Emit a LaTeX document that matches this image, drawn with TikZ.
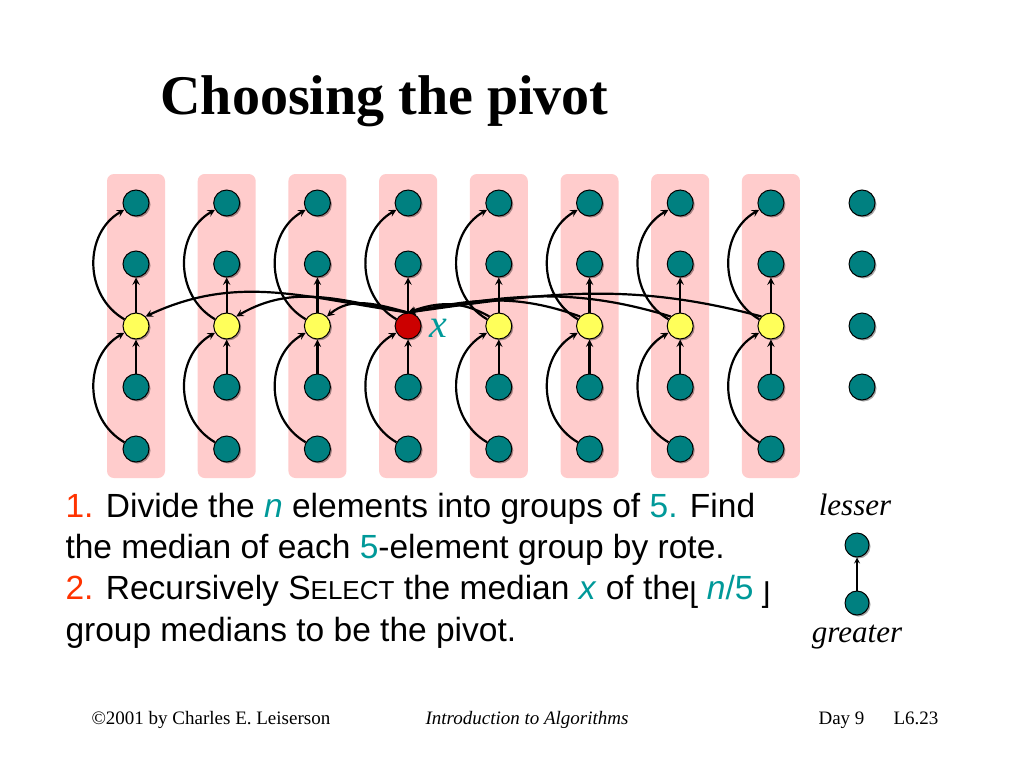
\documentclass[tikz,border=0pt]{standalone}
\usepackage{fontspec}
\setmainfont{Liberation Serif}
\setsansfont{Liberation Sans}
\newfontfamily\symfont{DejaVu Sans}
\usepackage{tikz}
\usetikzlibrary{shadows}

\definecolor{nodeteal}{RGB}{0,128,128}
\definecolor{medyellow}{RGB}{255,255,90}
\definecolor{pivred}{RGB}{204,0,0}
\definecolor{pinkbox}{RGB}{255,204,204}
\definecolor{txtred}{RGB}{255,51,0}
\definecolor{txtteal}{RGB}{0,153,153}

\tikzset{
    elem/.style={shape=circle,draw=black,fill=nodeteal,minimum size=26pt,inner sep=0pt,line width=1pt,
        drop shadow={shadow xshift=1.5pt,shadow yshift=-1.5pt,opacity=0.35,fill=black}},
    grp/.style={fill=pinkbox,rounded corners=7pt},
    arr/.style={->,>=stealth,line width=2.2pt},
    body/.style={anchor=base west,font=\sffamily\fontsize{33.5}{41}\selectfont},
    foot/.style={anchor=base west,font=\fontsize{19}{19}\selectfont},
}

\begin{document}
\begin{tikzpicture}[x=1pt,y=-1pt]
        \fill[white] (0,0) rectangle (1024,768);
        \useasboundingbox (0,0) rectangle (1024,768);

        \node[anchor=base west,font=\bfseries\fontsize{56}{56}\selectfont] (title) at (157,114) {Choosing the pivot};

        % groups of 5
        \foreach \c/\fc in {1/medyellow,2/medyellow,3/medyellow,4/pivred,5/medyellow,6/medyellow,7/medyellow,8/medyellow} {
            \pgfmathsetmacro\cx{136+(\c-1)*90.7}
            \fill[grp] (\cx-29,174) rectangle (\cx+29,478);
            \node[elem] (t\c) at (\cx,203) {};
            \node[elem] (s\c) at (\cx,264) {};
            \node[elem,fill=\fc] (m\c) at (\cx,326) {};
            \node[elem] (f\c) at (\cx,387) {};
            \node[elem] (b\c) at (\cx,449) {};
            \draw[arr] (m\c) -- (s\c);
            \draw[arr] (f\c) -- (m\c);
            \draw[arr] (m\c) to[out=150,in=210,looseness=1.1] (t\c);
            \draw[arr] (b\c) to[out=150,in=210,looseness=1.1] (m\c);
        }
        \node[elem] (e1) at (862,203) {};
        \node[elem] (e2) at (862,264) {};
        \node[elem] (e3) at (862,326) {};
        \node[elem] (e4) at (862,387) {};

        % medians against x
        \foreach \c/\o/\i in {1/172/25,2/170/30,3/165/40}
            \draw[arr] (m4.north) to[out=\o,in=\i] (m\c.north east);
        \foreach \c/\o/\i in {5/150/20,6/160/12,7/163/10,8/165/8}
            \draw[arr] (m\c.north west) to[out=\o,in=\i] (m4.north);
        \node[text=txtteal,font=\itshape\fontsize{40}{40}\selectfont] (xl) at (438,328) {x};

        \node[body] (l1) at (62,517) {\textcolor{txtred}{1.} Divide the \textcolor{txtteal}{\textit{n}} elements into groups of \textcolor{txtteal}{5.} Find};
        \node[body] (l2) at (62,558) {the median of each \textcolor{txtteal}{5}-element group by rote.};
        \node[body] (l3) at (62,599) {\textcolor{txtred}{2.} Recursively S{\fontsize{26}{26}\selectfont ELECT} the median \textcolor{txtteal}{\textit{x}} of the\raisebox{-5pt}{\symfont\fontsize{30}{30}\selectfont ⌊}\,\textcolor{txtteal}{\textit{n}/5}\,\raisebox{-5pt}{\symfont\fontsize{30}{30}\selectfont ⌋}};
        \node[body] (l4) at (62,641) {group medians to be the pivot.};

        % legend
        \node[font=\itshape\fontsize{31}{31}\selectfont] (lesser) at (855,505) {lesser};
        \node[elem,minimum size=24pt] (lo) at (857,545) {};
        \node[elem,minimum size=24pt] (hi) at (857,603) {};
        \draw[arr,line width=1.6pt] (hi) -- (lo);
        \node[font=\itshape\fontsize{31}{31}\selectfont] (greater) at (857,637) {greater};

        \node[foot] (copy) at (88,724) {©2001 by Charles E. Leiserson};
        \node[foot,font=\itshape\fontsize{19}{19}\selectfont] (book) at (422,724) {Introduction to Algorithms};
        \node[foot] (day) at (815,724) {Day 9};
        \node[foot] (lec) at (890,724) {L6.23};
\end{tikzpicture}
\end{document}
